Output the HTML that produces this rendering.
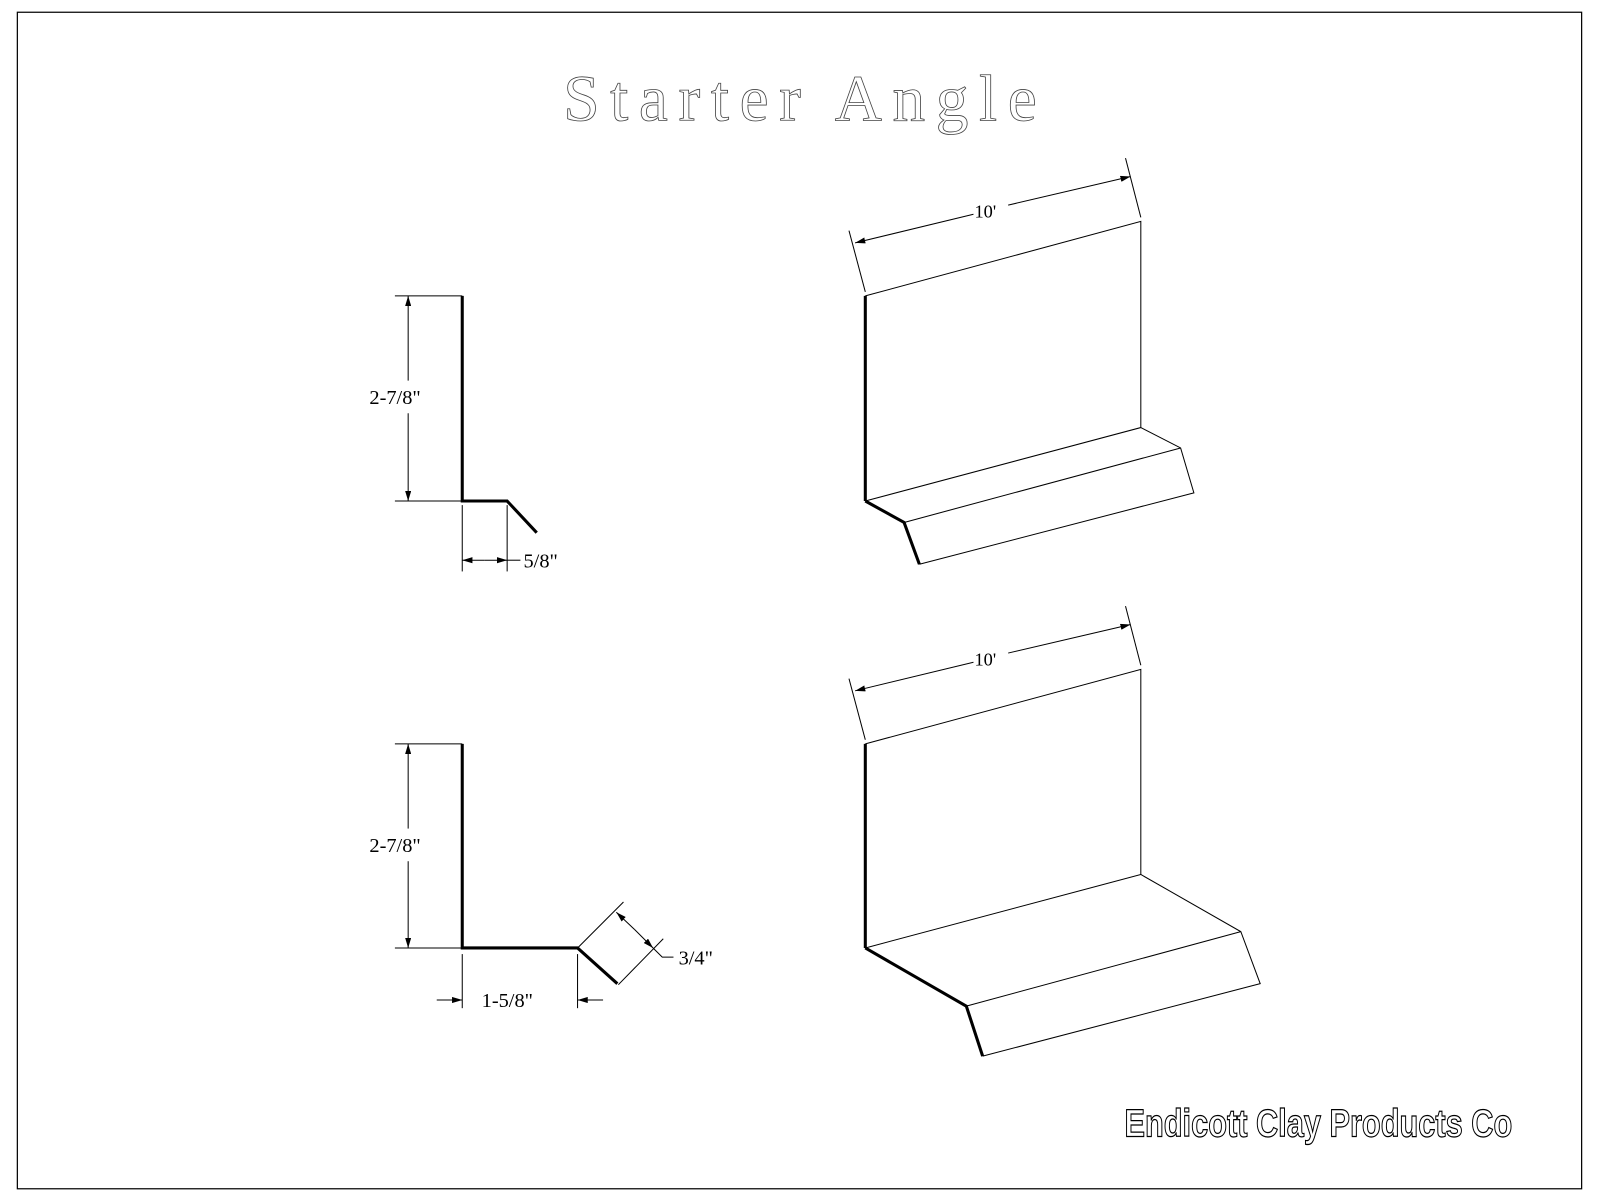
<!DOCTYPE html>
<html><head><meta charset="utf-8"><style>
html,body{margin:0;padding:0;background:#fff;}
svg{display:block;}
</style></head><body>
<svg width="1600" height="1200" viewBox="0 0 1568 1176" preserveAspectRatio="none" xmlns="http://www.w3.org/2000/svg">
<defs>
<marker id="a" viewBox="0 0 10 6" refX="10" refY="3" markerWidth="10" markerHeight="6" markerUnits="userSpaceOnUse" orient="auto-start-reverse"><path d="M0,0 L10,3 L0,6z" fill="#000"/></marker>
</defs>
<rect x="17" y="12" width="1533" height="1153" fill="none" stroke="#000" stroke-width="1.2"/>
<text x="552" y="118" textLength="464" lengthAdjust="spacing" font-family="Liberation Serif, serif" font-size="64" fill="#fff" stroke="#444" stroke-width="0.8">Starter Angle</text>

<g stroke="#000" fill="none" stroke-width="1">
<polyline points="453,290 453,491 497,491 526,522" stroke-width="3"/>
<line x1="387" y1="290" x2="453" y2="290"/>
<line x1="387" y1="491" x2="453" y2="491"/>
<line x1="400" y1="373" x2="400" y2="290" marker-end="url(#a)"/>
<line x1="400" y1="405" x2="400" y2="491" marker-end="url(#a)"/>
<line x1="453" y1="495" x2="453" y2="560"/>
<line x1="497" y1="495" x2="497" y2="560"/>
<line x1="475" y1="549" x2="453" y2="549" marker-end="url(#a)"/>
<line x1="475" y1="549" x2="497" y2="549" marker-end="url(#a)"/>
<line x1="497" y1="549" x2="510" y2="549"/>

<polyline points="453,729 453,929 566,929 605,964" stroke-width="3"/>
<line x1="387" y1="729" x2="453" y2="729"/>
<line x1="387" y1="929" x2="453" y2="929"/>
<line x1="400" y1="812" x2="400" y2="729" marker-end="url(#a)"/>
<line x1="400" y1="844" x2="400" y2="929" marker-end="url(#a)"/>
<line x1="453" y1="935" x2="453" y2="988"/>
<line x1="566" y1="935" x2="566" y2="988"/>
<line x1="428" y1="980" x2="453" y2="980" marker-end="url(#a)"/>
<line x1="591" y1="980" x2="566" y2="980" marker-end="url(#a)"/>
<line x1="566" y1="929" x2="611" y2="884"/>
<line x1="606" y1="965" x2="650" y2="920"/>
<line x1="622" y1="911" x2="604" y2="894" marker-end="url(#a)"/>
<line x1="622" y1="911" x2="640" y2="929" marker-end="url(#a)"/>
<polyline points="640,929 649,938 660,938"/>

<polyline points="848,290 1118,217 1118,419 848,491"/>
<line x1="848" y1="290" x2="848" y2="491" stroke-width="3"/>
<polyline points="1118,419 1157,439 1170,483 901,553"/>
<polyline points="848,491 886,512 901,553" stroke-width="3"/>
<line x1="886" y1="512" x2="1157" y2="439"/>
<line x1="848" y1="286" x2="832" y2="226"/>
<line x1="1118" y1="213" x2="1103" y2="155"/>
<line x1="954" y1="210" x2="838" y2="238" marker-end="url(#a)"/>
<line x1="988" y1="201" x2="1108" y2="173" marker-end="url(#a)"/>

<polyline points="848,729 1118,656 1118,857 848,929"/>
<line x1="848" y1="729" x2="848" y2="929" stroke-width="3"/>
<polyline points="1118,857 1216,913 1235,964 963,1035"/>
<polyline points="848,929 947,986 963,1035" stroke-width="3"/>
<line x1="947" y1="986" x2="1216" y2="913"/>
<line x1="848" y1="725" x2="832" y2="665"/>
<line x1="1118" y1="652" x2="1103" y2="594"/>
<line x1="954" y1="649" x2="838" y2="677" marker-end="url(#a)"/>
<line x1="988" y1="640" x2="1108" y2="612" marker-end="url(#a)"/>
</g>

<g font-family="Liberation Serif, serif" font-size="20" fill="#000">
<text x="362" y="396">2-7/8"</text>
<text x="513" y="556">5/8"</text>
<text x="362" y="835">2-7/8"</text>
<text x="472" y="987">1-5/8"</text>
<text x="665" y="945">3/4"</text>
<text x="955" y="213" font-size="18">10'</text>
<text x="955" y="652" font-size="18">10'</text>
</g>

<text x="1102" y="1114" textLength="380" lengthAdjust="spacingAndGlyphs" font-family="Liberation Sans, sans-serif" font-weight="bold" font-size="38" fill="#fff" stroke="#000" stroke-width="1.2">Endicott Clay Products Co</text>
</svg>
</body></html>
